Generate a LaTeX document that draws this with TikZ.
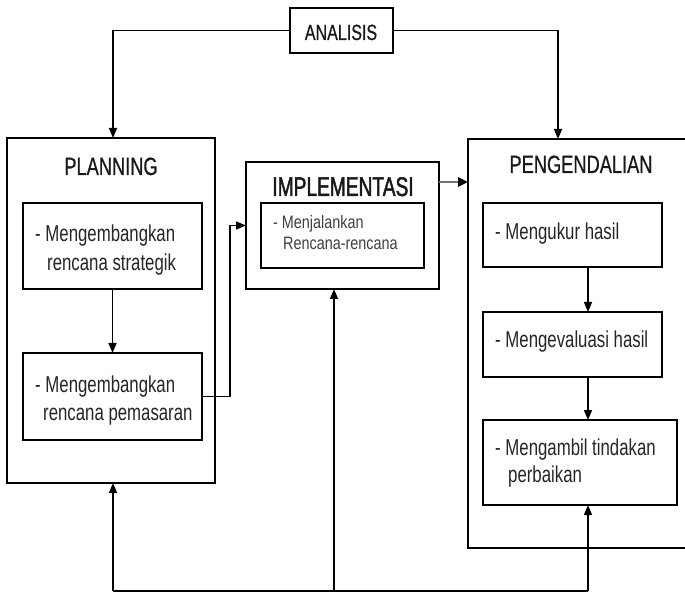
\documentclass[tikz,border=0pt]{standalone}
\usepackage{fontspec}
\setmainfont[FakeStretch=0.73]{Liberation Sans}
\newfontfamily\smallf[FakeStretch=0.8]{Liberation Sans}
\newfontfamily\medf[FakeStretch=0.73,FakeBold=0.6]{Liberation Sans}
\newfontfamily\heavyf[FakeStretch=0.71,FakeBold=1.6]{Liberation Sans}
\usetikzlibrary{arrows.meta}
\begin{document}
\begin{tikzpicture}[x=1pt,y=-1pt,
  box/.style={draw, line width=1.8pt, anchor=north west, inner sep=0pt, outer sep=0pt},
  conn/.style={line width=1.5pt, -{Triangle[length=10pt,width=8pt]}},
  plain/.style={line width=1.5pt},
  ttl/.style={font=\medf\fontsize{25}{30}\selectfont, anchor=base, inner sep=0pt, text=black!90},
  txt/.style={font=\fontsize{23}{28}\selectfont, anchor=base west, inner sep=0pt, text=black!85},
  stxt/.style={font=\smallf\fontsize{18}{22}\selectfont, anchor=base west, inner sep=0pt, text=black!75},
]
\useasboundingbox (0,0) rectangle (685,593);
\fill[white] (0,0) rectangle (685,593);

% coordinates for connector lanes
\coordinate (cl) at (113,0);
\coordinate (cr) at (558,0);
\coordinate (cm) at (334,0);
\coordinate (cx) at (588,0);
\coordinate (bot) at (0,591);
\coordinate (ay) at (0,182);

% ANALISIS
\node[box, minimum width=103pt, minimum height=45pt] (an) at (290,8) {};
\node[ttl, font=\medf\fontsize{22}{26}\selectfont] (anT) at (341,40) {ANALISIS};

% PLANNING
\node[box, minimum width=208pt, minimum height=345pt] (plan) at (7,138) {};
\node[ttl] (planT) at (111,175) {PLANNING};
\node[box, minimum width=179pt, minimum height=86pt] (s1) at (23,203) {};
\node[txt] (s1a) at (35,242) {- Mengembangkan};
\node[txt] (s1b) at (47,271) {rencana strategik};
\node[box, minimum width=179pt, minimum height=87pt] (s2) at (23,353) {};
\node[txt] (s2a) at (35,392) {- Mengembangkan};
\node[txt] (s2b) at (43,420) {rencana pemasaran};

% IMPLEMENTASI
\node[box, minimum width=193pt, minimum height=127pt] (impl) at (246,162) {};
\node[ttl, font=\heavyf\fontsize{27}{32}\selectfont] (implT) at (343,196) {IMPLEMENTASI};
\node[box, minimum width=163pt, minimum height=65pt] (s3) at (261,203) {};
\node[stxt] (s3a) at (273,229) {- Menjalankan};
\node[stxt] (s3b) at (283,250) {Rencana-rencana};

% PENGENDALIAN
\node[box, minimum width=240pt, minimum height=409pt] (ctl) at (468,139) {};
\node[ttl] (ctlT) at (581,173) {PENGENDALIAN};
\node[box, minimum width=179pt, minimum height=64pt] (s5) at (483,203) {};
\node[txt] (s5a) at (495,240) {- Mengukur hasil};
\node[box, minimum width=179pt, minimum height=65pt] (s6) at (483,312) {};
\node[txt] (s6a) at (495,348) {- Mengevaluasi hasil};
\node[box, minimum width=194pt, minimum height=85pt] (s7) at (483,420) {};
\node[txt] (s7a) at (495,455) {- Mengambil tindakan};
\node[txt] (s7b) at (508,482) {perbaikan};

% connectors
\draw[conn] (an.west) -| (plan.north -| cl);
\draw[conn] (an.east) -| (ctl.north -| cr);
\draw[conn] (s1.south) -- (s2.north);
\draw[conn] (s2.east) -- ++(28,0) |- (impl.west);
\draw[line width=2.8pt, draw=black!55, -{Triangle[length=10pt,width=9pt,color=black]}] (impl.east |- ay) -- (ctl.west |- ay);
\draw[conn] (s5.south -| cx) -- (s6.north -| cx);
\draw[conn] (s6.south -| cx) -- (s7.north -| cx);
\draw[plain] (cl |- bot) -- (cx |- bot);
\draw[conn] (cl |- bot) -- (plan.south -| cl);
\draw[conn] (cm |- bot) -- (impl.south -| cm);
\draw[conn] (cx |- bot) -- (s7.south -| cx);
\end{tikzpicture}
\end{document}
